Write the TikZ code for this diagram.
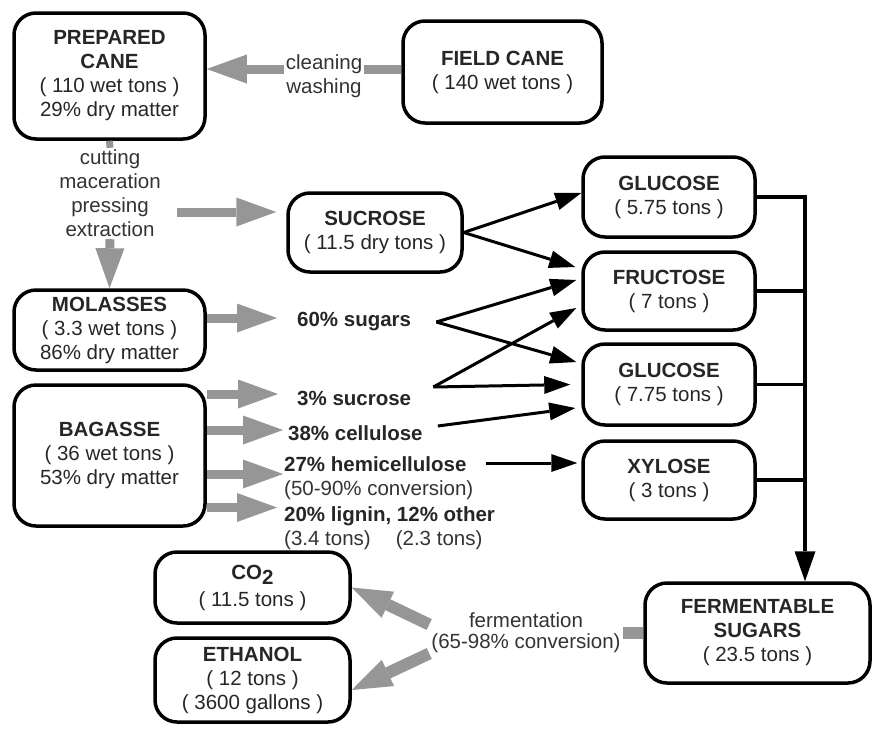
\documentclass[tikz,border=0pt]{standalone}
\usepackage{fontspec}
\setmainfont{Liberation Sans}
\usetikzlibrary{arrows.meta}
\definecolor{flowgray}{RGB}{150,150,150}
\tikzset{
    cane-box/.style = {draw, line width=3.5pt, rounded corners=22pt, align=center, inner sep=0pt, text=black!85, font=\fontsize{20.5}{24}\selectfont},
    flow-text/.style = {align=center, inner sep=2pt, text=black!80, font=\fontsize{20.5}{24}\selectfont},
    yield-text/.style = {anchor=west, align=left, inner sep=0pt, text=black!85, font=\bfseries\fontsize{20.5}{24}\selectfont},
    gray-arrow/.style = {draw=flowgray, line width=9pt, -{Triangle[length=40pt, width=29pt, line width=0pt]}},
    gray-stub/.style = {draw=flowgray, line width=7pt},
    black-arrow/.style = {draw, line width=3pt, -{Triangle[length=26pt, width=18pt, line width=0pt]}},
    bus-line/.style = {draw, line width=3.5pt},
}
\begin{document}
\begin{tikzpicture}[x=1pt, y=-1pt]
\useasboundingbox (0,0) rectangle (873,729);

\node [cane-box, minimum width=191pt, minimum height=126pt] (prepared) at (109.5,76) {\textbf{PREPARED}\\\textbf{CANE}\\( 110 wet tons )\\29\% dry matter};
\node [cane-box, minimum width=199pt, minimum height=102pt] (field) at (502.5,72) {\textbf{FIELD CANE}\\( 140 wet tons )};
\node [flow-text] (clean) at (324,76) {cleaning\\washing};
\coordinate (cleanrow) at ([yshift=3pt]field.west);
\draw [gray-stub, line width=9pt] (cleanrow) -- (cleanrow -| clean.east);
\draw [gray-arrow] (cleanrow -| clean.west) -- (cleanrow -| prepared.east);

\node [flow-text] (cut) at (110,193.5) {cutting\\maceration\\pressing\\extraction};
\node [cane-box, minimum width=174pt, minimum height=79pt] (sucrose) at (375,232.5) {\textbf{SUCROSE}\\( 11.5 dry tons )};
\node [cane-box, minimum width=191pt, minimum height=80pt] (molasses) at (109.5,330) {\textbf{MOLASSES}\\( 3.3 wet tons )\\86\% dry matter};
\node [cane-box, minimum width=191pt, minimum height=141pt] (bagasse) at (109.5,455.5) {\textbf{BAGASSE}\\( 36 wet tons )\\53\% dry matter};
\draw [gray-stub] (prepared.south) -- (cut.north);
\draw [gray-arrow] (cut.south) -- (molasses.north);
\coordinate (cutout) at (177,212);
\draw [gray-arrow, shorten >=10pt] (cutout) -- (cutout -| sucrose.west);

\node [cane-box, minimum width=172pt, minimum height=80pt] (glucose1) at (669,197) {\textbf{GLUCOSE}\\( 5.75 tons )};
\node [cane-box, minimum width=172pt, minimum height=78pt] (fructose) at (669,291) {\textbf{FRUCTOSE}\\( 7 tons )};
\node [cane-box, minimum width=172pt, minimum height=81pt] (glucose2) at (669,384.5) {\textbf{GLUCOSE}\\( 7.75 tons )};
\node [cane-box, minimum width=172pt, minimum height=78pt] (xylose) at (669,480) {\textbf{XYLOSE}\\( 3 tons )};

\node [yield-text] (sugars) at (297,322) {60\% sugars};
\node [yield-text] (sucr) at (297,398) {3\% sucrose};
\node [yield-text] (cell) at (288,433) {38\% cellulose};
\node [yield-text] (hemi) at (284,478) {27\% hemicellulose\\{\mdseries\color{black!80}(50-90\% conversion)}};
\node [yield-text] (lignin) at (284,528.5) {20\% lignin, 12\% other\\{\mdseries\color{black!80}(3.4 tons)\hspace{25pt}(2.3 tons)}};

\coordinate (tip-sug) at ([xshift=-20pt, yshift=4pt]sugars.west);
\coordinate (tip-sucr) at ([xshift=-19pt, yshift=4pt]sucr.west);
\coordinate (tip-cell) at ([xshift=-5pt, yshift=3pt]cell.west);
\coordinate (tip-hemi) at ([xshift=-1pt, yshift=4pt]hemi.west);
\coordinate (tip-lig) at ([xshift=-7pt, yshift=21pt]lignin.west);
\draw [gray-arrow] (molasses.east |- tip-sug) -- (tip-sug);
\draw [gray-arrow] (bagasse.east |- tip-sucr) -- (tip-sucr);
\draw [gray-arrow] (bagasse.east |- tip-cell) -- (tip-cell);
\draw [gray-arrow] (bagasse.east |- tip-hemi) -- (tip-hemi);
\draw [gray-arrow] (bagasse.east |- tip-lig) -- (tip-lig);

\coordinate (sug-out) at ([xshift=25pt]sugars.east);
\coordinate (sucr-out) at ([xshift=22pt, yshift=11pt]sucr.east);
\coordinate (cell-out) at ([xshift=15pt, yshift=7pt]cell.east);
\coordinate (hemi-out) at ([xshift=12pt, yshift=15pt]hemi.east);
\draw [black-arrow] (sucrose.east) -- ([yshift=4pt]glucose1.west);
\draw [black-arrow] (sucrose.east) -- ([xshift=-6pt, yshift=24pt]fructose.west);
\draw [black-arrow] (sug-out) -- ([xshift=-5pt, yshift=11pt]fructose.west);
\draw [black-arrow] (sug-out) -- ([xshift=-5pt, yshift=22.5pt]glucose2.west);
\draw [black-arrow] (sucr-out) -- ([xshift=-5pt, yshift=-17pt]fructose.west);
\draw [black-arrow] (sucr-out) -- ([xshift=-11pt]glucose2.west);
\draw [black-arrow] (cell-out) -- ([xshift=-6pt, yshift=-23.5pt]glucose2.west);
\draw [black-arrow] (hemi-out) -- ([xshift=-4pt, yshift=17pt]xylose.west);

\node [cane-box, minimum width=225pt, minimum height=100pt] (fermentable) at (757.5,633) {\textbf{FERMENTABLE}\\\textbf{SUGARS}\\( 23.5 tons )};
\coordinate (bus) at (805,197);
\draw [bus-line, -{Triangle[length=30pt, width=21pt, line width=0pt]}] (glucose1.east) -- (bus) -- (bus |- fermentable.north);
\draw [bus-line] (fructose.east) -- (fructose.east -| bus);
\draw [bus-line] (glucose2.east) -- (glucose2.east -| bus);
\draw [bus-line] (xylose.east) -- (xylose.east -| bus);

\node [cane-box, minimum width=195pt, minimum height=71pt] (co2) at (252.5,587.5) {\textbf{CO\raisebox{-5pt}{2}}\\[3pt]( 11.5 tons )};
\node [cane-box, minimum width=195pt, minimum height=84pt] (ethanol) at (252.5,680) {\textbf{ETHANOL}\\( 12 tons )\\( 3600 gallons )};
\node [flow-text, font=\fontsize{20.5}{21}\selectfont] (ferm) at (526,632.5) {fermentation\\(65-98\% conversion)};
\draw [gray-stub, line width=12pt] (fermentable.west) -- (fermentable.west -| ferm.east);
\draw [gray-arrow, line width=12pt] ([yshift=8pt]ferm.west) -- (co2.east);
\draw [gray-arrow, line width=12pt] ([yshift=-21pt]ferm.west) -- ([yshift=-10pt]ethanol.east);
\end{tikzpicture}
\end{document}
